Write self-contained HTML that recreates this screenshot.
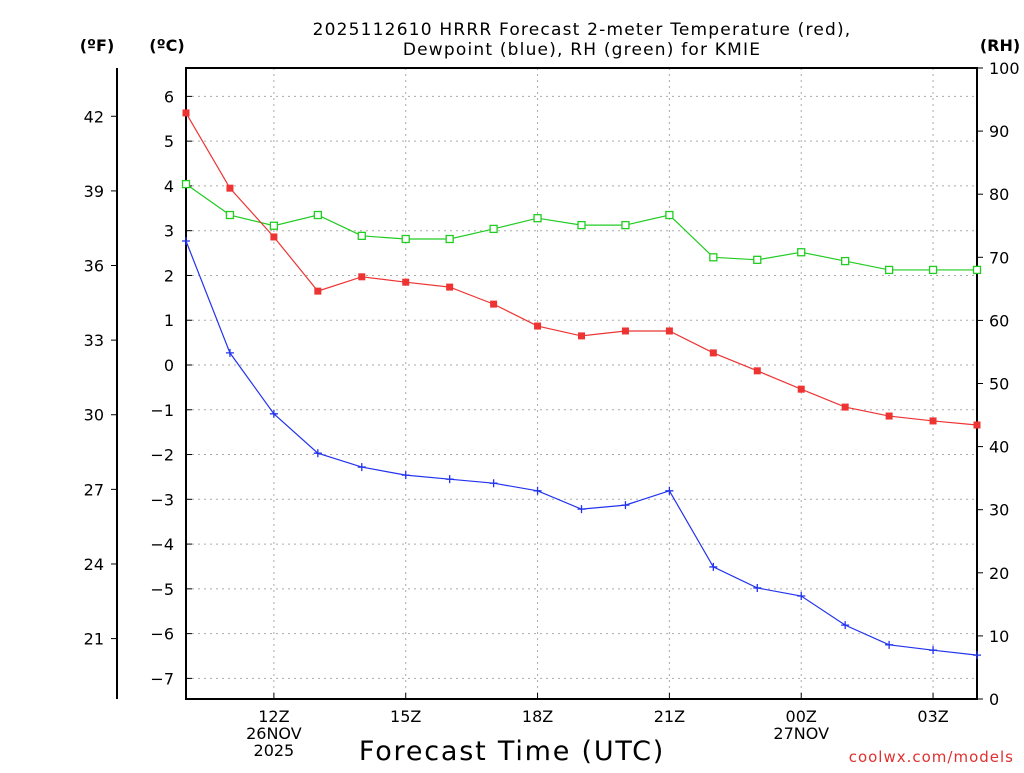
<!DOCTYPE html>
<html><head><meta charset="utf-8"><style>
body{margin:0;background:#fff;}
svg text{font-family:"DejaVu Sans","Liberation Sans",sans-serif;}
</style></head><body>
<svg id="c" width="1024" height="768" xmlns="http://www.w3.org/2000/svg">
<text x="582" y="35" font-size="17" text-anchor="middle" letter-spacing="1.2">2025112610 HRRR Forecast 2-meter Temperature (red),</text>
<text x="582" y="55" font-size="17" text-anchor="middle" letter-spacing="1.2">Dewpoint (blue), RH (green) for KMIE</text>
<text x="97" y="51" font-size="16" font-weight="bold" text-anchor="middle">(ºF)</text>
<text x="167" y="51" font-size="16" font-weight="bold" text-anchor="middle">(ºC)</text>
<text x="1000" y="51" font-size="16" font-weight="bold" text-anchor="middle">(RH)</text>
<text x="512" y="760" font-size="27" text-anchor="middle" letter-spacing="1.8">Forecast Time (UTC)</text>
<text x="1014" y="762" font-size="15" fill="#e03030" text-anchor="end" letter-spacing="1">coolwx.com/models</text>
<g id="grid"></g><g id="axes"></g><g id="series"></g>
</svg>
<script>
const hours=["10","11","12","13","14","15","16","17","18","19","20","21","22","23","00","01","02","03","04"];
const tempC=[5.63,3.95,2.86,1.65,1.97,1.85,1.74,1.36,0.87,0.65,0.76,0.76,0.27,-0.13,-0.54,-0.94,-1.14,-1.25,-1.34];
const dewC=[2.77,0.27,-1.09,-1.97,-2.28,-2.46,-2.55,-2.64,-2.81,-3.22,-3.13,-2.81,-4.51,-4.98,-5.16,-5.81,-6.25,-6.37,-6.48];
const rh=[81.6,76.7,75.0,76.7,73.4,72.9,72.9,74.5,76.2,75.1,75.1,76.7,70.0,69.6,70.8,69.4,68.0,68.0,68.0];
const cTicks=[6,5,4,3,2,1,0,-1,-2,-3,-4,-5,-6,-7];
const fTicks=[42,39,36,33,30,27,24,21];
const rhTicks=[0,10,20,30,40,50,60,70,80,90,100];
const xLabels=[[2,"12Z","26NOV","2025"],[5,"15Z"],[8,"18Z"],[11,"21Z"],[14,"00Z","27NOV"],[17,"03Z"]];
const L=186,R=977,T=68,B=699;
const xs=i=>L+i*(R-L)/(hours.length-1);
const yc=c=>365-c*44.77;
const yf=f=>yc((f-32)*5/9);
const yr=r=>B-r*(B-T)/100;
const NS="http://www.w3.org/2000/svg";
function mk(p,t,a){const e=document.createElementNS(NS,t);for(const k in a)e.setAttribute(k,a[k]);p.appendChild(e);return e;}
const g=document.getElementById('grid'),ax=document.getElementById('axes'),s=document.getElementById('series');
cTicks.forEach(c=>{const y=yc(c);
 const l=mk(g,'line',{x1:L,x2:R,y1:y,y2:y,stroke:'#aaa','stroke-dasharray':'2,4'});
 
 mk(ax,'line',{x1:L,x2:L+6,y1:y,y2:y,stroke:'#000'});
 const t=mk(ax,'text',{x:174,y:y+6,'font-size':16,'text-anchor':'end'});t.textContent=c<0?'\u2212'+(-c):c;
 });
fTicks.forEach(f=>{const y=yf(f);
 mk(ax,'line',{x1:111,x2:117,y1:y,y2:y,stroke:'#000'});
 const t=mk(ax,'text',{x:104,y:y+6,'font-size':16,'text-anchor':'end'});t.textContent=f;
 });
rhTicks.forEach(r=>{const y=yr(r);
 mk(ax,'line',{x1:R,x2:R+6,y1:y,y2:y,stroke:'#000'});
 const t=mk(ax,'text',{x:989,y:y+6,'font-size':16});t.textContent=r;
 });
xLabels.forEach(xl=>{const x=xs(xl[0]);
 const l=mk(g,'line',{x1:x,x2:x,y1:T,y2:B,stroke:'#aaa','stroke-dasharray':'2,4'});
 
 mk(ax,'line',{x1:x,x2:x,y1:B,y2:B-6,stroke:'#000'});
 for(let k=1;k<xl.length;k++){const t=mk(ax,'text',{x:x,y:B+23+(k-1)*17,'font-size':16,'text-anchor':'middle'});t.textContent=xl[k];
 }});
const fr=mk(ax,'rect',{x:L,y:T,width:R-L,height:B-T,fill:'none',stroke:'#000','stroke-width':2});

const fa=mk(ax,'line',{x1:117,x2:117,y1:T,y2:B,stroke:'#000','stroke-width':2});

function line(arr,yfn,col,name){const pl=mk(s,'polyline',{points:arr.map((v,i)=>xs(i)+','+yfn(v)).join(' '),fill:'none',stroke:col,'stroke-width':1.2});
 }
line(rh,yr,'#22cc22','rh-line');line(tempC,yc,'#ee3333','temp-line');line(dewC,yc,'#2233ee','dewpoint-line');
rh.forEach((v,i)=>{const m=mk(s,'rect',{x:xs(i)-3.5,y:yr(v)-3.5,width:7,height:7,fill:'#fff',stroke:'#22cc22','stroke-width':1.3});
 });
tempC.forEach((v,i)=>{const m=mk(s,'rect',{x:xs(i)-3.5,y:yc(v)-3.5,width:7,height:7,fill:'#ee3333'});
 });
dewC.forEach((v,i)=>{const x=xs(i),y=yc(v);const m=mk(s,'path',{d:`M${x-4},${y}H${x+4}M${x},${y-4}V${y+4}`,stroke:'#2233ee','stroke-width':1.3});
 });
</script>
</body></html>
